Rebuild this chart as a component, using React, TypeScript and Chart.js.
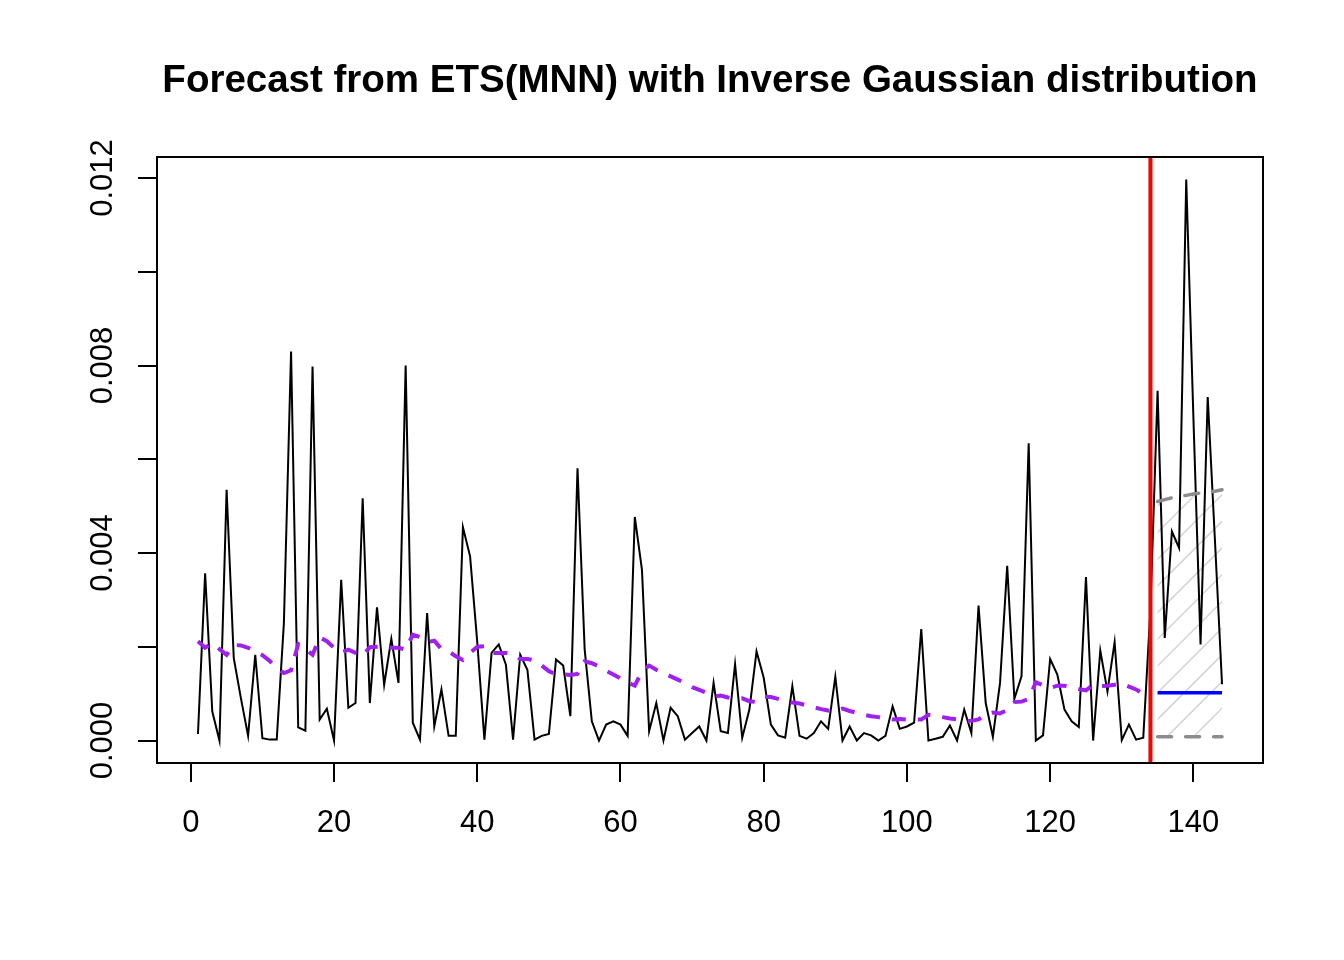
import { useEffect, useRef } from "react";
import { Chart, registerables } from "chart.js";

Chart.register(...registerables);

const TITLE = "Forecast from ETS(MNN) with Inverse Gaussian distribution";

// Observed series (in-sample 1..134 followed by holdout 135..144)
const actual = [
  0.00014, 0.00357, 0.00062, 0.0, 0.00535, 0.00176, 0.0009, 0.0001, 0.00183, 0.00005,
  0.00002, 0.00002, 0.00251, 0.0083, 0.00028, 0.00021, 0.00798, 0.00045, 0.00068, 0.0,
  0.00343, 0.0007, 0.0008, 0.00517, 0.0008, 0.00284, 0.00119, 0.00217, 0.00123, 0.008,
  0.00038, 0.00002, 0.00272, 0.0003, 0.00109, 0.0001, 0.0001, 0.00455, 0.00393, 0.0021,
  0.00002, 0.00187, 0.00205, 0.00162, 0.00002, 0.00183, 0.00151, 0.00002, 0.0001, 0.00014,
  0.00173, 0.0016, 0.00052, 0.00581, 0.00194, 0.00041, 0.0, 0.00034, 0.00041, 0.00034,
  0.0001, 0.00477, 0.00364, 0.0002, 0.0008, 0.0, 0.0007, 0.00052, 0.00002, 0.00016,
  0.0003, 0.0, 0.00123, 0.0002, 0.00016, 0.00163, 0.00006, 0.00066, 0.0019, 0.00134,
  0.00034, 0.00011, 0.00006, 0.00116, 0.0001, 0.00004, 0.00016, 0.00041, 0.00025, 0.00136,
  0.0, 0.0003, 0.0, 0.00016, 0.00011, 0.0, 0.0001, 0.00073, 0.00025, 0.0003,
  0.00038, 0.00238, 0.0, 0.00004, 0.00008, 0.00032, 0.0, 0.00066, 0.00016, 0.00288,
  0.0008, 0.00008, 0.00123, 0.00373, 0.00089, 0.00137, 0.00634, 0.0, 0.00011, 0.00174,
  0.00141, 0.00066, 0.00041, 0.00029, 0.00349, 0.0, 0.00192, 0.00105, 0.0021, 0.00001,
  0.00034, 0.00002, 0.00006, 0.0028, 0.00746, 0.00219, 0.00446, 0.00411, 0.01197, 0.0069,
  0.00205, 0.00733, 0.0043, 0.0012,
];

// Fitted values for 1..134
const fitted = [
  0.00212, 0.00198, 0.00208, 0.00195, 0.00183, 0.00204, 0.00203, 0.00198, 0.0019, 0.00182,
  0.0017, 0.00155, 0.00144, 0.0015, 0.00206, 0.00195, 0.00183, 0.0022, 0.00212, 0.00198,
  0.00188, 0.00194, 0.00187, 0.00181, 0.00199, 0.002, 0.00201, 0.00198, 0.00198, 0.00194,
  0.00226, 0.00221, 0.0021, 0.00213, 0.00195, 0.0019, 0.0018, 0.00172, 0.00187, 0.002,
  0.00201, 0.00187, 0.00187, 0.00187, 0.00185, 0.00174, 0.00174, 0.00171, 0.0016, 0.00148,
  0.00141, 0.00141, 0.0014, 0.00142, 0.00169, 0.00165, 0.00158, 0.00149, 0.00141, 0.00133,
  0.00124, 0.00117, 0.00148, 0.0016, 0.00151, 0.00144, 0.00137, 0.0013, 0.00123, 0.00114,
  0.00108, 0.00102, 0.00094, 0.00096, 0.00092, 0.00089, 0.0009, 0.00084, 0.00082, 0.00093,
  0.00093, 0.00089, 0.00085, 0.00081, 0.00079, 0.00075, 0.00071, 0.00067, 0.00064, 0.00063,
  0.00068, 0.00063, 0.00059, 0.00055, 0.00052, 0.0005, 0.00047, 0.00045, 0.00046, 0.00045,
  0.00045, 0.00045, 0.00055, 0.00053, 0.0005, 0.00047, 0.00045, 0.00041, 0.00042, 0.00045,
  0.00056, 0.0006, 0.00058, 0.00065, 0.00082, 0.00083, 0.00089, 0.00124, 0.00118, 0.00112,
  0.00117, 0.00117, 0.00114, 0.0011, 0.00107, 0.00119, 0.00116, 0.00117, 0.00119, 0.00122,
  0.00115, 0.00109, 0.001, 0.00097,
];

// Forecast horizon 135..144
const forecast = [0.00102, 0.00102, 0.00102, 0.00102, 0.00102, 0.00102, 0.00102, 0.00102, 0.00102, 0.00102];
const upper = [0.0051, 0.00514, 0.00518, 0.00521, 0.00523, 0.00526, 0.00528, 0.0053, 0.00532, 0.00535];
const lower = [0.00008, 0.00008, 0.00008, 0.00008, 0.00008, 0.00008, 0.00008, 0.00008, 0.00008, 0.00008];

const forecastOrigin = 134;
const xTicks = [0, 20, 40, 60, 80, 100, 120, 140];
const yTicks = [0, 0.002, 0.004, 0.006, 0.008, 0.01, 0.012];
const yLabelValues = [0, 0.004, 0.008, 0.012];
const yLabelText = ["0.000", "0.004", "0.008", "0.012"];

const FONT = '"Liberation Sans", Arial, Helvetica, sans-serif';

export default function App() {
  const ref = useRef<HTMLCanvasElement>(null);

  useEffect(() => {
    document.body.style.margin = "0";
    const canvas = ref.current;
    if (!canvas) return;

    const nAll = actual.length;
    const xsAll = actual.map((_, i) => i + 1);
    const fcX = forecast.map((_, i) => forecastOrigin + 1 + i);

    const actualPts = actual.map((v, i) => ({ x: xsAll[i], y: v }));
    const fittedPts = fitted.map((v, i) => ({ x: i + 1, y: v }));
    const fcPts = forecast.map((v, i) => ({ x: fcX[i], y: v }));
    const upPts = upper.map((v, i) => ({ x: fcX[i], y: v }));
    const loPts = lower.map((v, i) => ({ x: fcX[i], y: v }));

    const allY = [...actual, ...fitted, ...upper, ...lower];
    const yLo = Math.min(...allY);
    const yHi = Math.max(...allY);
    const yr = yHi - yLo;
    const xr = nAll - 1;

    const deco = {
      id: "deco",
      beforeDatasetsDraw(chart: any) {
        const { ctx, chartArea } = chart;
        const xs = chart.scales.x;
        const ys = chart.scales.y;
        ctx.save();
        ctx.beginPath();
        fcX.forEach((x, i) => {
          const px = xs.getPixelForValue(x);
          const py = ys.getPixelForValue(upper[i]);
          if (i === 0) ctx.moveTo(px, py);
          else ctx.lineTo(px, py);
        });
        for (let i = fcX.length - 1; i >= 0; i--) {
          ctx.lineTo(xs.getPixelForValue(fcX[i]), ys.getPixelForValue(lower[i]));
        }
        ctx.closePath();
        ctx.clip();
        ctx.strokeStyle = "#d3d3d3";
        ctx.lineWidth = 1.5;
        const x0 = xs.getPixelForValue(fcX[0]) - 2;
        const x1 = xs.getPixelForValue(fcX[fcX.length - 1]) + 2;
        const spacing = 26.7;
        const cMin = x0 + chartArea.top;
        const cMax = x1 + chartArea.bottom;
        let c = 1690 - Math.ceil((1690 - cMin) / spacing) * spacing;
        for (; c <= cMax; c += spacing) {
          ctx.beginPath();
          ctx.moveTo(x0, c - x0);
          ctx.lineTo(x1, c - x1);
          ctx.stroke();
        }
        ctx.restore();
      },
      afterDatasetsDraw(chart: any) {
        const { ctx, chartArea } = chart;
        const px = chart.scales.x.getPixelForValue(forecastOrigin);
        ctx.save();
        ctx.strokeStyle = "#ff0000";
        ctx.lineWidth = 4;
        ctx.beginPath();
        ctx.moveTo(px, chartArea.top);
        ctx.lineTo(px, chartArea.bottom);
        ctx.stroke();
        ctx.restore();
      },
      afterDraw(chart: any) {
        const { ctx, chartArea } = chart;
        const ys = chart.scales.y;
        ctx.save();
        ctx.strokeStyle = "#000";
        ctx.lineWidth = 2;
        ctx.strokeRect(chartArea.left, chartArea.top, chartArea.right - chartArea.left, chartArea.bottom - chartArea.top);

        ctx.fillStyle = "#000";
        ctx.font = `31px ${FONT}`;
        ctx.textAlign = "center";
        ctx.textBaseline = "alphabetic";
        yLabelValues.forEach((v, i) => {
          const py = ys.getPixelForValue(v);
          ctx.save();
          ctx.translate(111.5, py);
          ctx.rotate(-Math.PI / 2);
          ctx.fillText(yLabelText[i], 0, 0);
          ctx.restore();
        });

        ctx.font = `bold 38.5px ${FONT}`;
        ctx.textAlign = "center";
        ctx.textBaseline = "alphabetic";
        ctx.fillText(TITLE, (chartArea.left + chartArea.right) / 2, 92);
        ctx.restore();
      },
    };

    const chart = new Chart(canvas, {
      type: "line",
      data: {
        datasets: [
          {
            label: "Fitted",
            data: fittedPts,
            borderColor: "#a020f0",
            borderWidth: 4,
            borderDash: [14, 12],
            pointRadius: 0,
            tension: 0,
            order: 1,
          },
          {
            label: "Forecast",
            data: fcPts,
            borderColor: "#0000ff",
            borderWidth: 3.5,
            pointRadius: 0,
            tension: 0,
            order: 2,
          },
          {
            label: "Upper",
            data: upPts,
            borderColor: "#8c8c8c",
            borderWidth: 3.5,
            borderDash: [14, 14],
            borderCapStyle: "round",
            pointRadius: 0,
            tension: 0,
            order: 3,
          },
          {
            label: "Lower",
            data: loPts,
            borderColor: "#8c8c8c",
            borderWidth: 3.5,
            borderDash: [14, 14],
            borderCapStyle: "round",
            pointRadius: 0,
            tension: 0,
            order: 4,
          },
          {
            label: "Actual",
            data: actualPts,
            borderColor: "#000000",
            borderWidth: 2,
            pointRadius: 0,
            tension: 0,
            order: 5,
          },
        ],
      },
      options: {
        responsive: false,
        animation: false,
        devicePixelRatio: 1,
        parsing: true,
        layout: { padding: { left: 0, top: 157, right: 81, bottom: 0 } },
        plugins: {
          legend: { display: false },
          tooltip: { enabled: false },
          title: { display: false },
        },
        scales: {
          x: {
            type: "linear",
            position: "bottom",
            min: 1 - 0.04 * xr,
            max: nAll + 0.04 * xr,
            afterBuildTicks: (s: any) => {
              s.ticks = xTicks.map((v) => ({ value: v }));
            },
            afterFit: (s: any) => {
              s.height = 197;
            },
            ticks: {
              color: "#000",
              font: { family: FONT, size: 31 },
              padding: 23,
              maxRotation: 0,
              minRotation: 0,
              autoSkip: false,
              callback: (v: any) => String(v),
            },
            grid: {
              display: true,
              drawOnChartArea: false,
              drawTicks: true,
              tickLength: 19,
              color: "#000",
              lineWidth: 2,
            },
            border: { display: true, color: "#000", width: 2 },
          },
          y: {
            type: "linear",
            position: "left",
            min: yLo - 0.04 * yr,
            max: yHi + 0.04 * yr,
            afterBuildTicks: (s: any) => {
              s.ticks = yTicks.map((v) => ({ value: v }));
            },
            afterFit: (s: any) => {
              s.width = 157;
            },
            ticks: { display: false },
            grid: {
              display: true,
              drawOnChartArea: false,
              drawTicks: true,
              tickLength: 19,
              color: "#000",
              lineWidth: 2,
            },
            border: { display: true, color: "#000", width: 2 },
          },
        },
      },
      plugins: [deco],
    } as any);

    return () => chart.destroy();
  }, []);

  return <canvas ref={ref} width={1344} height={960} style={{ display: "block" }} />;
}
